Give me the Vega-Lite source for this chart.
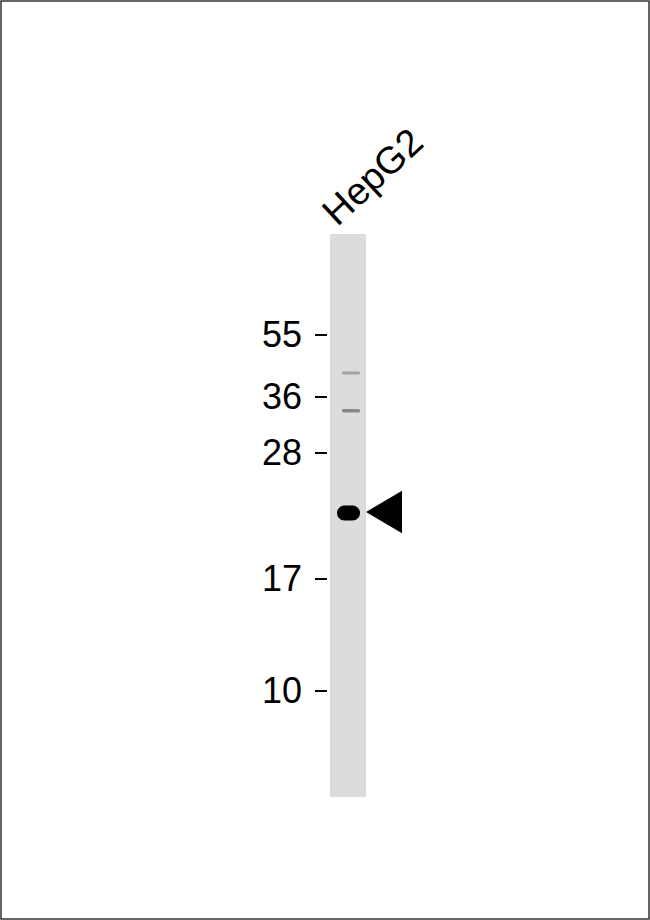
{
  "$schema": "https://vega.github.io/schema/vega-lite/v6.json",
  "description": "Western blot, HepG2 lane, with marker ladder",
  "autosize": "none",
  "padding": 0,
  "width": 650,
  "height": 920,
  "background": "white",
  "config": {"view": {"stroke": null}, "font": "Liberation Sans"},
  "datasets": {
    "frame": [{"x": 1, "x2": 649, "y": 1, "y2": 919}],
    "lane": [{"name": "HepG2", "x": 330, "x2": 366, "y": 234, "y2": 797}],
    "faint": [
      {"kDa": "~40", "x": 342, "x2": 360, "y": 371.5, "y2": 374.5, "shade": "#a2a2a2"},
      {"kDa": "~34", "x": 342, "x2": 360, "y": 409, "y2": 412.5, "shade": "#888888"}
    ],
    "main": [{"kDa": "~22", "x": 337, "x2": 360, "y": 505.5, "y2": 520.5}],
    "markers": [
      {"label": "55", "y": 335},
      {"label": "36", "y": 397},
      {"label": "28", "y": 453},
      {"label": "17", "y": 579},
      {"label": "10", "y": 691}
    ],
    "arrow": [{"x": 384, "y": 512}]
  },
  "layer": [
    {
      "data": {"name": "frame"},
      "mark": {"type": "rect", "fill": null, "stroke": "#333333", "strokeWidth": 1.5},
      "encoding": {
        "x": {"field": "x", "type": "quantitative", "scale": {"domain": [0, 650], "nice": false}, "axis": null},
        "x2": {"field": "x2"},
        "y": {"field": "y", "type": "quantitative", "scale": {"domain": [0, 920], "nice": false, "reverse": true}, "axis": null},
        "y2": {"field": "y2"}
      }
    },
    {
      "data": {"name": "lane"},
      "mark": {"type": "rect", "fill": "#dcdcdc"},
      "encoding": {
        "x": {"field": "x", "type": "quantitative"},
        "x2": {"field": "x2"},
        "y": {"field": "y", "type": "quantitative"},
        "y2": {"field": "y2"}
      }
    },
    {
      "data": {"name": "lane"},
      "mark": {"type": "text", "angle": 317, "align": "left", "baseline": "alphabetic", "fontSize": 38, "dx": 10, "dy": 0, "color": "#000000"},
      "encoding": {
        "x": {"field": "x", "type": "quantitative"},
        "y": {"field": "y", "type": "quantitative"},
        "text": {"field": "name"}
      }
    },
    {
      "data": {"name": "faint"},
      "mark": {"type": "rect", "cornerRadius": 1.5},
      "encoding": {
        "x": {"field": "x", "type": "quantitative"},
        "x2": {"field": "x2"},
        "y": {"field": "y", "type": "quantitative"},
        "y2": {"field": "y2"},
        "color": {"field": "shade", "type": "nominal", "scale": null, "legend": null}
      }
    },
    {
      "data": {"name": "main"},
      "mark": {"type": "rect", "cornerRadius": 7.5, "fill": "#000000"},
      "encoding": {
        "x": {"field": "x", "type": "quantitative"},
        "x2": {"field": "x2"},
        "y": {"field": "y", "type": "quantitative"},
        "y2": {"field": "y2"}
      }
    },
    {
      "data": {"name": "markers"},
      "mark": {"type": "rule", "stroke": "#000000", "strokeWidth": 2},
      "encoding": {
        "x": {"datum": 315, "type": "quantitative"},
        "x2": {"datum": 327},
        "y": {"field": "y", "type": "quantitative"}
      }
    },
    {
      "data": {"name": "markers"},
      "mark": {"type": "text", "align": "right", "baseline": "middle", "fontSize": 36, "dy": 1, "color": "#000000"},
      "encoding": {
        "x": {"datum": 302, "type": "quantitative"},
        "y": {"field": "y", "type": "quantitative"},
        "text": {"field": "label"}
      }
    },
    {
      "data": {"name": "arrow"},
      "mark": {"type": "point", "shape": "M-1,0L1,-1.18L1,1.18Z", "size": 1296, "filled": true, "fill": "#000000", "opacity": 1, "strokeWidth": 0},
      "encoding": {
        "x": {"field": "x", "type": "quantitative"},
        "y": {"field": "y", "type": "quantitative"}
      }
    }
  ]
}
